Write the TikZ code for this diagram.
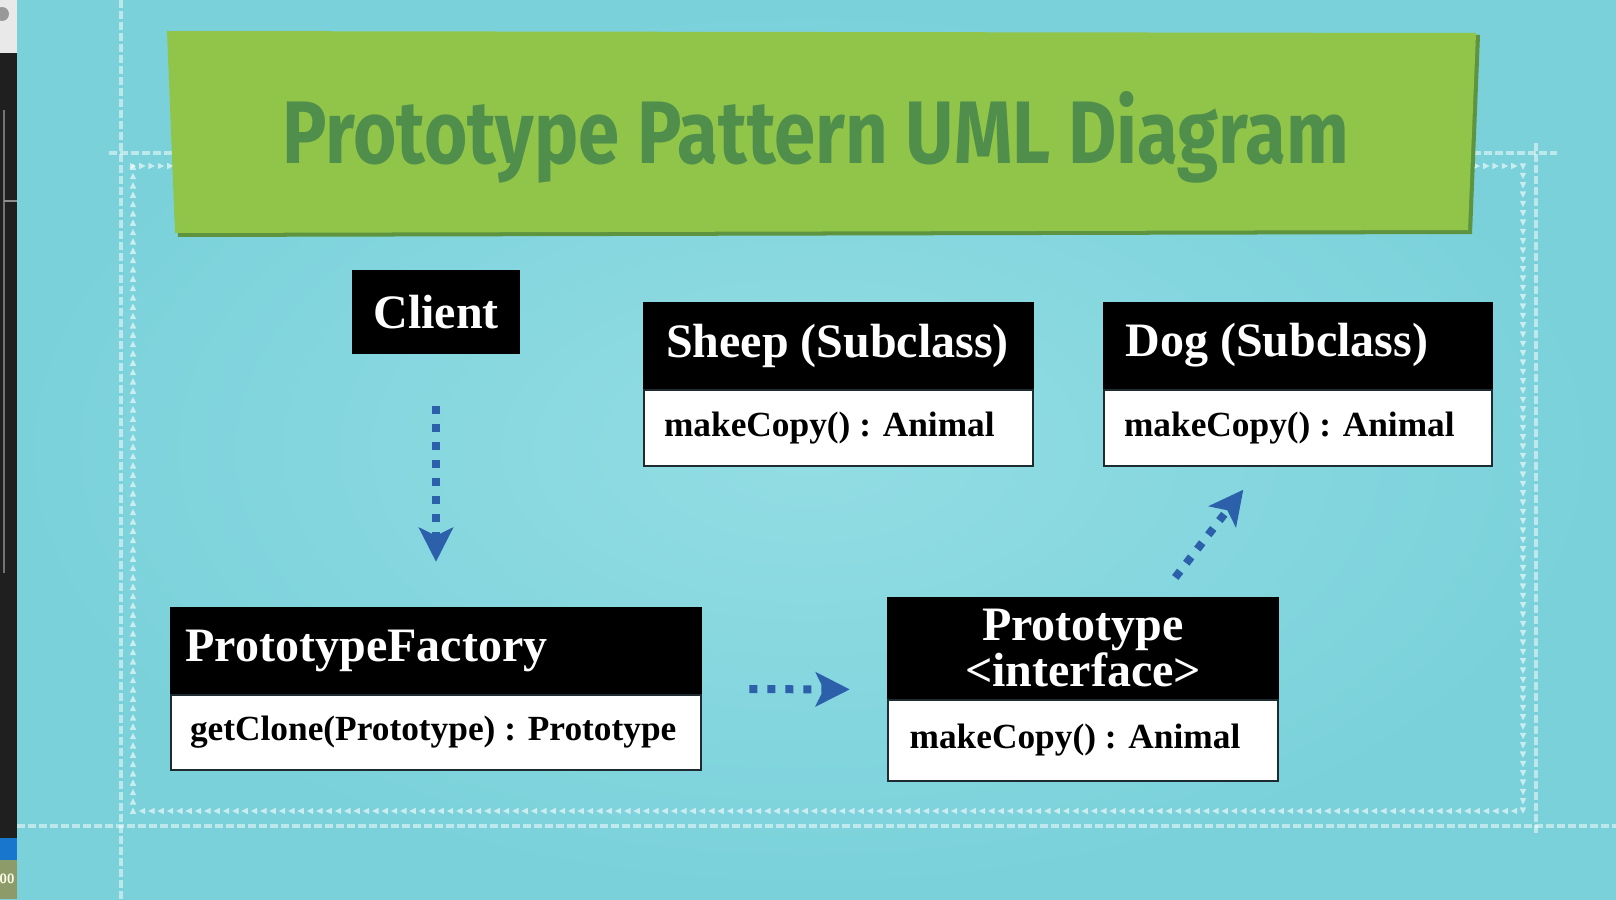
\documentclass[tikz,border=0pt]{standalone}
\usepackage{fontspec}
\usepackage{graphicx}
\setmainfont{Liberation Serif}
\newfontfamily\titlefont{Fira Sans}
\usetikzlibrary{arrows.meta, calc, fit, decorations.markings}

\definecolor{bgcyan}{HTML}{7AD1DA}
\definecolor{bglight}{HTML}{93DDE4}
\definecolor{banner}{HTML}{91C549}
\definecolor{bannershade}{HTML}{5E9440}
\definecolor{titlegreen}{HTML}{508E4C}
\definecolor{arrowblue}{HTML}{2C60AB}
\definecolor{boxline}{HTML}{1E2C32}
\definecolor{stripgray}{HTML}{E9E9E9}
\definecolor{stripdark}{HTML}{1F1F1F}
\definecolor{stripblue}{HTML}{1877CC}
\definecolor{stripolive}{HTML}{8D9B6B}

\begin{document}
\begin{tikzpicture}[x=0.75pt, y=-0.75pt,
  guide/.style={draw=white, draw opacity=0.5, line width=2.6pt, dash pattern=on 6pt off 2.25pt},
  trim/.style={decoration={markings,
      mark=between positions 0 and 1 step 7pt with
      {\fill[white, fill opacity=0.6] (-3.2,-3.2) -- (3.2,0) -- (-3.2,3.2) -- cycle;}},
    postaction={decorate}},
  head/.style={anchor=north west, fill=black, draw=black, line width=1.5pt, text=white,
    inner ysep=0pt, font=\fontsize{36}{32.5}\selectfont\bfseries},
  body/.style={anchor=north west, fill=white, draw=boxline, line width=1.5pt, text=black,
    inner ysep=0pt, font=\fontsize{26.5}{30}\selectfont\bfseries},
  flow/.style={draw=arrowblue, line width=6pt, dash pattern=on 6pt off 7.5pt,
    -{Stealth[length=25.5pt, width=25.5pt, inset=6pt]}},
  group/.style={inner sep=0pt}
]
\useasboundingbox (0,0) rectangle (1616,899);

% backdrop
\shade[inner color=bglight, outer color=bgcyan] (0,0) rectangle (1616,899);

% window strip on the left edge
\begin{scope}
  \clip (0,0) rectangle (17,899);
  \fill[stripgray] (0,0) rectangle (17,53);
  \fill[black!40] (2,14) circle (7);
  \fill[stripdark] (0,53) rectangle (17,838);
  \draw[black!55, line width=0.8pt] (4,110) -- (4,573);
  \draw[black!45, line width=1.5pt] (4,201) -- (17,201);
  \fill[stripblue] (0,838) rectangle (17,860);
  \fill[stripolive] (0,860) rectangle (17,899);
  \node[text=white!90!yellow, inner sep=0pt] (stripnum) at (7,879)
    {\fontsize{10}{10}\selectfont\sffamily\bfseries 00};
\end{scope}

% dashed guide lines
\draw[guide] (121,0) -- (121,899);
\draw[guide] (17,826) -- (1616,826);
\draw[guide] (109,153) -- (1557,153);
\draw[guide] (1536,143) -- (1536,835);

% frame of small triangles
\path[trim] (133,166) -- (1523,166) -- (1523,811) -- (133,811) -- cycle;

% title banner
\fill[bannershade] (170,34) -- (1480,35) -- (1472,234) -- (178,237) -- cycle;
\fill[banner] (167,31) -- (1476,33) -- (1468,230) -- (175,233) -- cycle;
\node[text=titlegreen, anchor=base, inner sep=0pt] (title) at (816,163)
  {\resizebox{800pt}{54pt}{\titlefont\bfseries Prototype Pattern UML Diagram}};

% classes
\node[head, minimum width=124.5pt, minimum height=61.5pt, inner xsep=0pt] (client) at (352,270) {Client};

\node[head, minimum width=291.75pt, minimum height=63.75pt, inner xsep=16.5pt] (shead) at (643,302)
  {\makebox[258.75pt][l]{Sheep (Subclass)}};
\node[body, minimum width=291.75pt, minimum height=57pt, inner xsep=15pt] (sbody) at (shead.south west)
  {\makebox[261.75pt][l]{makeCopy() : Animal}};

\node[head, minimum width=291pt, minimum height=63.75pt, inner xsep=16.2pt] (dhead) at (1103,302)
  {\makebox[258.6pt][l]{Dog (Subclass)}};
\node[body, minimum width=291pt, minimum height=57pt, inner xsep=15pt] (dbody) at (dhead.south west)
  {\makebox[261pt][l]{makeCopy() : Animal}};

\node[head, minimum width=397.5pt, minimum height=63.75pt, inner xsep=11pt] (fhead) at (170,607)
  {\makebox[375.5pt][l]{PrototypeFactory}};
\node[body, minimum width=397.5pt, minimum height=56.25pt, inner xsep=14.25pt] (fbody) at (fhead.south west)
  {\makebox[369pt][l]{getClone(Prototype) : Prototype}};

\node[head, minimum width=292.5pt, minimum height=75pt, align=center] (phead) at (887,597)
  {Prototype\\<interface>};
\node[body, minimum width=292.5pt, minimum height=60.75pt, inner xsep=16.2pt] (pbody) at (phead.south west)
  {\makebox[260.1pt][l]{makeCopy() : Animal}};

% whole-class outlines used by the connectors
\node[group, fit=(fhead)(fbody)] (factory) {};
\node[group, fit=(phead)(pbody)] (proto) {};
\node[group, fit=(dhead)(dbody)] (dog) {};

% connectors
\draw[flow, shorten <=39pt, shorten >=33.75pt] (client.south) -- (factory.north);
\draw[flow, shorten <=35.25pt, shorten >=27.75pt] (factory.east) -- (proto.west);
\coordinate (pa) at ($(proto.north east)+(-119,0)$);
\coordinate (da) at ($(dog.south west)+(158,0)$);
\draw[flow, shorten <=18.3pt, shorten >=21.3pt] (pa) -- (da);
\end{tikzpicture}
\end{document}
